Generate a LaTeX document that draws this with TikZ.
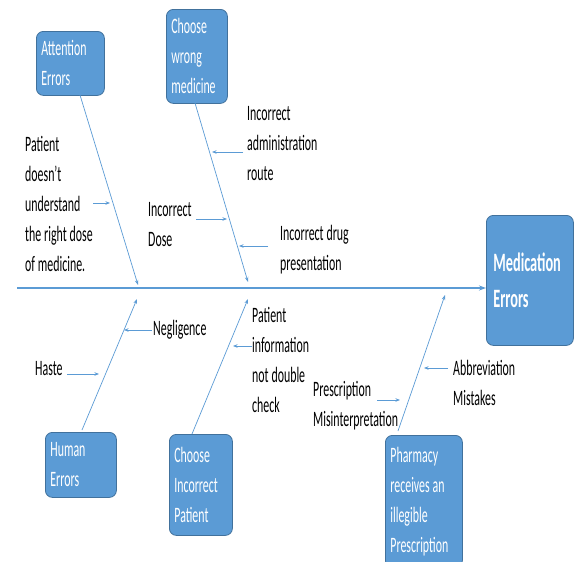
\documentclass[tikz,border=0pt]{standalone}
\usepackage{fontspec}
\setmainfont{Carlito}[FakeStretch=0.54]
\usetikzlibrary{arrows.meta}
\definecolor{boxfill}{HTML}{5B9BD5}
\definecolor{boxedge}{HTML}{41719C}
\definecolor{bonecol}{HTML}{5B9BD5}
\newcommand{\tightspace}{\spaceskip=0.13em plus 0.04em minus 0.03em\relax}
\begin{document}
\begin{tikzpicture}[x=1pt,y=-1pt,
  cause/.style={draw=boxedge, line width=0.8pt, fill=boxfill, rounded corners=7pt, text=white,
    align=left, inner xsep=5pt, inner ysep=0pt, anchor=north west,
    font=\fontsize{22}{30}\selectfont, execute at begin node=\tightspace},
  lbl/.style={align=left, anchor=west, inner sep=0pt, text=black,
    font=\fontsize{22}{30}\selectfont\tightspace, execute at begin node=\tightspace},
  bonearrow/.style={draw=bonecol, line width=0.7pt, -{Stealth[length=5pt,width=3.5pt]}},
  smallarrow/.style={draw=bonecol, line width=0.8pt, -{Stealth[length=4.5pt,width=3.5pt]}},
  spine/.style={draw=bonecol, line width=1.3pt, -{Stealth[length=7pt,width=5pt]}}
]
\useasboundingbox (0,0) rectangle (574,562);
\clip (0,0) rectangle (574,562);
\fill[white] (0,0) rectangle (574,562);

% effect box
\node[cause, minimum width=87pt, minimum height=130pt, text width=73pt, inner xsep=7pt,
      font=\fontsize{26.5}{36}\selectfont\bfseries] (med) at (486,215) {Medication\\Errors};

% cause boxes
\node[cause, minimum width=68pt, minimum height=64pt, text width=58pt] (attn) at (36,31) {Attention\\Errors};
\node[cause, minimum width=61pt, minimum height=94pt, text width=51pt] (wrongmed) at (166,9) {Choose\\wrong\\medicine};
\node[cause, minimum width=71pt, minimum height=65pt, text width=61pt] (human) at (45,432) {Human\\Errors};
\node[cause, minimum width=63pt, minimum height=101pt, text width=53pt] (wrongpat) at (169,434) {Choose\\Incorrect\\Patient};
\node[cause, minimum width=77pt, minimum height=132pt, text width=67pt] (pharm) at (385,435) {Pharmacy\\receives an\\illegible\\Prescription\\[30pt]};

% spine
\coordinate (tail) at (17,288);
\draw[spine] (tail) -- (med.west |- tail);

% bone end points
\coordinate (attnS) at (80,95);    \coordinate (attnE) at (138,285);
\coordinate (wmS) at (195,103);    \coordinate (wmE) at (248,282);
\coordinate (humS) at (82,430);    \coordinate (humE) at (137,299);
\coordinate (wpS) at (192,434);    \coordinate (wpE) at (248,299);
\coordinate (phS) at (398,431);    \coordinate (phE) at (445,295);

\draw[bonearrow] (attnS) -- (attnE);
\draw[bonearrow] (wmS) -- (wmE);
\draw[bonearrow] (humS) -- (humE);
\draw[bonearrow] (wpS) -- (wpE);
\draw[bonearrow] (phS) -- (phE);

% sub-cause labels
\node[lbl] (l1) at (25,204) {Patient\\doesn’t\\understand\\the right dose\\of medicine.};
\node[lbl] (l2) at (148,225) {Incorrect\\Dose};
\node[lbl] (l3) at (247,144) {Incorrect\\administration\\route};
\node[lbl] (l4) at (280,250) {Incorrect drug\\presentation};
\node[lbl] (l5) at (153,330) {Negligence};
\node[lbl] (l6) at (35,369) {Haste};
\node[lbl] (l7) at (252,360) {Patient\\information\\not double\\check};
\node[lbl] (l8) at (313,406) {Prescription\\Misinterpretation};
\node[lbl] (l9) at (453,383) {Abbreviation\\Mistakes};

% small arrows
\coordinate (a1s) at (93,203);  \coordinate (a1e) at (110,203);
\coordinate (a2s) at (196,219); \coordinate (a2e) at (227,219);
\coordinate (a3s) at (243,152); \coordinate (a3e) at (212,152);
\coordinate (a4s) at (268,246); \coordinate (a4e) at (239,246);
\coordinate (a5s) at (152,330); \coordinate (a5e) at (124,330);
\coordinate (a6s) at (67,374);  \coordinate (a6e) at (99,374);
\coordinate (a7s) at (252,346); \coordinate (a7e) at (233,346);
\coordinate (a8s) at (448,368); \coordinate (a8e) at (424,368);
\coordinate (a9s) at (377,400); \coordinate (a9e) at (400,400);
\foreach \i in {1,...,9} \draw[smallarrow] (a\i s) -- (a\i e);
\end{tikzpicture}
\end{document}
